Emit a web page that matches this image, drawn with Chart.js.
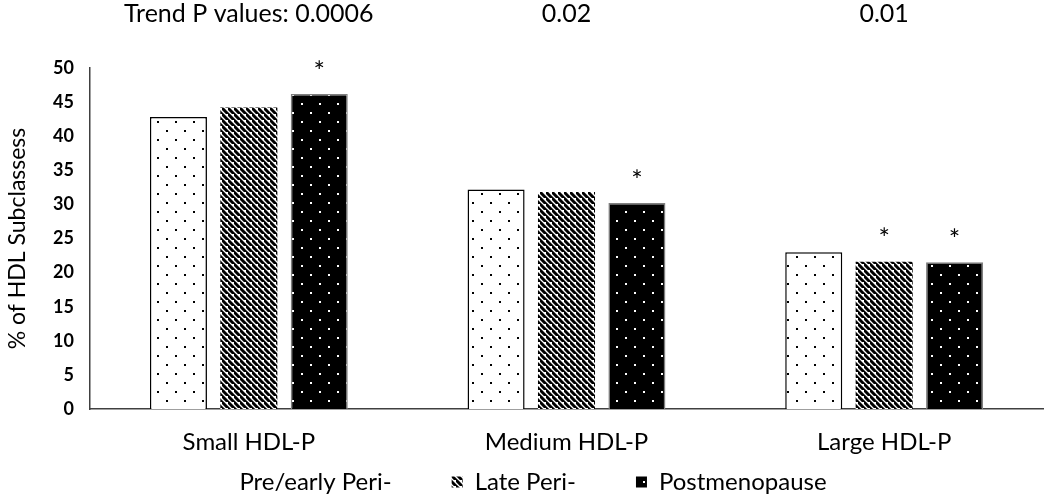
<!DOCTYPE html>
<html><head><meta charset="utf-8">
<script src="https://cdn.jsdelivr.net/npm/chart.js@4.4.1/dist/chart.umd.min.js"></script>
<style>html,body{margin:0;padding:0;background:#fff}#wrap{width:1050px;height:499px}</style>
</head><body><div id="wrap"><canvas id="c" width="1050" height="499"></canvas></div>
<script>
const categories = ['Small HDL-P', 'Medium HDL-P', 'Large HDL-P'];
const seriesNames = ['Pre/early Peri-', 'Late Peri-', 'Postmenopause'];
const preEarly = [42.8, 32.2, 23.0];
const latePeri = [44.2, 31.8, 21.6];
const postMeno = [46.2, 30.2, 21.5];
const trendLabels = ['Trend P values: 0.0006', '0.02', '0.01'];
const starsPre = [false, false, false];
const starsLate = [false, false, true];
const starsPost = [true, true, true];
const yTicks = [0, 5, 10, 15, 20, 25, 30, 35, 40, 45, 50];

const FONT = 'Lato, "Open Sans", sans-serif';
const LEGEND_PAD = 60;

function dotPattern(bg, fg) {
  const t = document.createElement('canvas'); t.width = 18; t.height = 18;
  const x = t.getContext('2d');
  x.fillStyle = bg; x.fillRect(0, 0, 18, 18);
  x.fillStyle = fg;
  x.fillRect(4, 4, 2, 2); x.fillRect(13, 13, 2, 2);
  return x.createPattern(t, 'repeat');
}
function stripePattern() {
  const s = 6;
  const t = document.createElement('canvas'); t.width = s; t.height = s;
  const x = t.getContext('2d');
  x.fillStyle = '#fff'; x.fillRect(0, 0, s, s);
  x.strokeStyle = '#000'; x.lineWidth = 3;
  x.beginPath();
  x.moveTo(-1, -1); x.lineTo(s + 1, s + 1);
  x.moveTo(-s - 1, -1); x.lineTo(1, s + 1);
  x.moveTo(s - 1, -s - 1); x.lineTo(2 * s + 1, s + 1);
  x.stroke();
  return x.createPattern(t, 'repeat');
}
const fills = [dotPattern('#fff', '#000'), stripePattern(), dotPattern('#000', '#fff')];
const borders = ['#000', '#fff', '#7f7f7f'];
const stars = [starsPre, starsLate, starsPost];

const overlay = {
  id: 'overlay',
  afterLayout(chart) {
    const lg = chart.legend;
    if (lg) {
      const h = lg.bottom - lg.top;
      lg.top = 482 - LEGEND_PAD - 12;
      lg.bottom = lg.top + h;
    }
  },
  afterDatasetsDraw(chart) {
    const ctx = chart.ctx, xs = chart.scales.x;
    ctx.save();
    ctx.fillStyle = '#000';
    ctx.textAlign = 'center';
    ctx.textBaseline = 'middle';
    ctx.font = '25px ' + FONT;
    trendLabels.forEach((t, i) => ctx.fillText(t, xs.getPixelForValue(i), 14));
    ctx.font = '27px ' + FONT;
    chart.data.datasets.forEach((ds, di) => {
      const meta = chart.getDatasetMeta(di);
      meta.data.forEach((bar, i) => {
        if (stars[di][i]) ctx.fillText('*', bar.x, bar.y - 22);
      });
    });
    ctx.restore();
  }
};

new Chart(document.getElementById('c'), {
  type: 'bar',
  data: {
    labels: categories,
    datasets: [preEarly, latePeri, postMeno].map((d, i) => ({
      label: seriesNames[i],
      data: d,
      backgroundColor: fills[i],
      borderColor: borders[i],
      borderWidth: i === 1 ? 0 : 1.5,
      categoryPercentage: 0.665,
      barPercentage: 0.81
    }))
  },
  options: {
    responsive: false,
    animation: false,
    layout: { padding: { top: 68, right: 7, left: 0, bottom: -54 } },
    plugins: {
      legend: {
        position: 'bottom',
        labels: {
          font: { family: FONT, size: 24 },
          color: '#000',
          boxWidth: 11, boxHeight: 11,
          padding: LEGEND_PAD,
          generateLabels(chart) {
            return Chart.defaults.plugins.legend.labels.generateLabels(chart).map(l => Object.assign(l, { lineWidth: 0 }));
          }
        }
      },
      tooltip: { enabled: false }
    },
    scales: {
      x: {
        grid: { display: false },
        border: { display: true, color: '#404040', width: 1.5 },
        ticks: { font: { family: FONT, size: 24 }, color: '#000', padding: 11 },
        afterFit(s) { s.height = 50; }
      },
      y: {
        min: 0, max: 50,
        afterBuildTicks(s) { s.ticks = yTicks.map(v => ({ value: v })); },
        grid: { display: false },
        border: { display: true, color: '#404040', width: 1.5 },
        ticks: { font: { family: FONT, size: 18, weight: 'bold' }, color: '#000', padding: 8 },
        title: { display: true, text: '% of HDL Subclassess', font: { family: FONT, size: 23 }, color: '#000' },
        afterFit(s) { s.width = 90; }
      }
    }
  },
  plugins: [overlay]
});
</script></body></html>
